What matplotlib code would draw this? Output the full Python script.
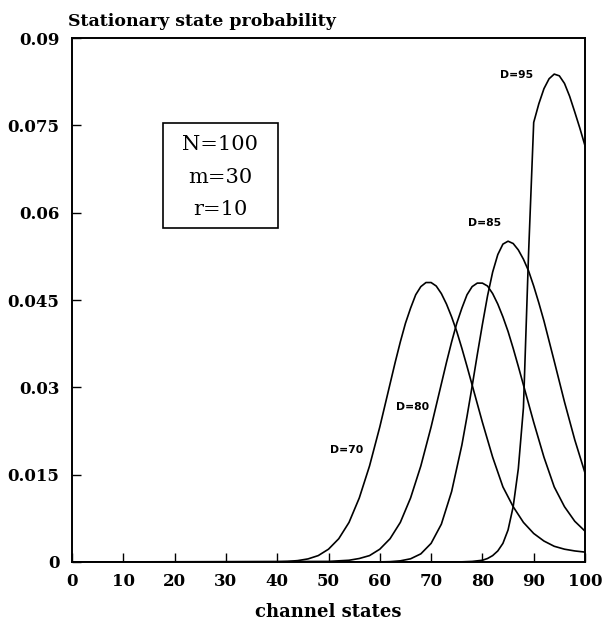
import matplotlib
matplotlib.use("Agg")
import matplotlib.pyplot as plt
from matplotlib.patches import Rectangle

# ---- data ----
x_d70 = [0, 40, 42, 44, 46, 48, 50, 52, 54, 56, 58, 60, 61, 62, 63, 64, 65, 66, 67, 68, 69, 70,
         71, 72, 73, 74, 75, 76, 77, 78, 80, 82, 84, 86, 88, 90, 92, 94, 96, 98, 100]
y_d70 = [0, 0.00004, 0.0001, 0.00024, 0.00053, 0.0011, 0.0022, 0.0040, 0.0068, 0.0110, 0.0165,
         0.0232, 0.0269, 0.0306, 0.0343, 0.0378, 0.0410, 0.0436, 0.0459, 0.0473, 0.0480, 0.0480,
         0.0474, 0.0461, 0.0443, 0.0421, 0.0396, 0.0367, 0.0336, 0.0304, 0.0240, 0.0180, 0.0129,
         0.0095, 0.0068, 0.0049, 0.0036, 0.0027, 0.0022, 0.0019, 0.0017]

x_d80 = [0, 50, 52, 54, 56, 58, 60, 62, 64, 66, 68, 70, 71, 72, 73, 74, 75, 76, 77, 78, 79, 80,
         81, 82, 83, 84, 85, 86, 87, 88, 90, 92, 94, 96, 98, 100]
y_d80 = [0, 0.0001, 0.0002, 0.0003, 0.0006, 0.0011, 0.0022, 0.0040, 0.0068, 0.0110, 0.0165,
         0.0232, 0.0269, 0.0306, 0.0343, 0.0378, 0.0410, 0.0436, 0.0459, 0.0473, 0.0479, 0.0479,
         0.0474, 0.0461, 0.0443, 0.0421, 0.0396, 0.0367, 0.0336, 0.0304, 0.0240, 0.0180, 0.0129,
         0.0095, 0.0070, 0.0053]

x_d85 = [0, 60, 62, 64, 66, 68, 70, 72, 74, 76, 77, 78, 79, 80, 81, 82, 83, 84, 85, 86, 87, 88,
         89, 90, 91, 92, 94, 96, 98, 100]
y_d85 = [0, 0.00002, 0.00006, 0.0002, 0.00055, 0.0014, 0.0032, 0.0065, 0.0121, 0.0201, 0.0250,
         0.0302, 0.0356, 0.0408, 0.0457, 0.0498, 0.0528, 0.0546, 0.0551, 0.0547, 0.0536, 0.0520,
         0.0500, 0.0474, 0.0445, 0.0414, 0.0345, 0.0275, 0.0210, 0.0153]

x_d95 = [0, 76, 78, 80, 81, 82, 83, 84, 85, 86, 87, 88, 89, 90, 91, 92, 93, 94, 95, 96, 97, 98,
         99, 100]
y_d95 = [0, 0.00003, 0.0001, 0.0003, 0.0006, 0.0011, 0.0019, 0.0032, 0.0055, 0.0095, 0.0160,
         0.0265, 0.0530, 0.0755, 0.0787, 0.0813, 0.0830, 0.0838, 0.0835, 0.0822, 0.0800, 0.0773,
         0.0745, 0.0715]

series = [("D=70", x_d70, y_d70), ("D=80", x_d80, y_d80),
          ("D=85", x_d85, y_d85), ("D=95", x_d95, y_d95)]
label_pos = {"D=70": (53.6, 0.0192), "D=80": (66.3, 0.0266),
             "D=85": (80.5, 0.0582), "D=95": (86.7, 0.0836)}

x_ticks = [0, 10, 20, 30, 40, 50, 60, 70, 80, 90, 100]
y_ticks = [0, 0.015, 0.03, 0.045, 0.06, 0.075, 0.09]
y_tick_labels = ["0", "0.015", "0.03", "0.045", "0.06", "0.075", "0.09"]
params_text = ["N=100", "m=30", "r=10"]

# ---- figure ----
fig = plt.figure(figsize=(6.08, 6.24), dpi=100)
ax = fig.add_axes([72 / 608, 1 - 562 / 624, 513 / 608, 524 / 624])

for name, xs, ys in series:
    ax.plot(xs, ys, color="black", lw=1.2)
    lx, ly = label_pos[name]
    ax.text(lx, ly, name, ha="center", va="center", fontsize=7.8,
            fontweight="bold", family="DejaVu Sans")

ax.set_xlim(0, 100)
ax.set_ylim(0, 0.09)
ax.set_xticks(x_ticks)
ax.set_xticklabels([str(t) for t in x_ticks], fontsize=12, fontweight="bold",
                   family="DejaVu Serif")
ax.set_yticks(y_ticks)
ax.set_yticklabels(y_tick_labels, fontsize=12, fontweight="bold", family="DejaVu Serif")
ax.tick_params(direction="in", length=6.5, width=1, pad=8)
ax.tick_params(axis="y", pad=9)
for sp in ax.spines.values():
    sp.set_linewidth(1.4)

ax.set_xlabel("channel states", fontsize=13, fontweight="bold", family="DejaVu Serif",
              labelpad=9)
fig.text(68 / 608, 1 - 26 / 624, "Stationary state probability", fontsize=12.5,
         fontweight="bold", family="DejaVu Serif", ha="left", va="baseline")

# parameter box
ax.add_patch(Rectangle((0.177, 0.637), 0.224, 0.200, transform=ax.transAxes,
                       fill=False, lw=1.2, edgecolor="black"))
for txt, yy in zip(params_text, [0.796, 0.733, 0.672]):
    ax.text(0.289, yy, txt, transform=ax.transAxes, ha="center", va="center",
            fontsize=15, family="DejaVu Serif")

fig.savefig("out.png", dpi=100)
